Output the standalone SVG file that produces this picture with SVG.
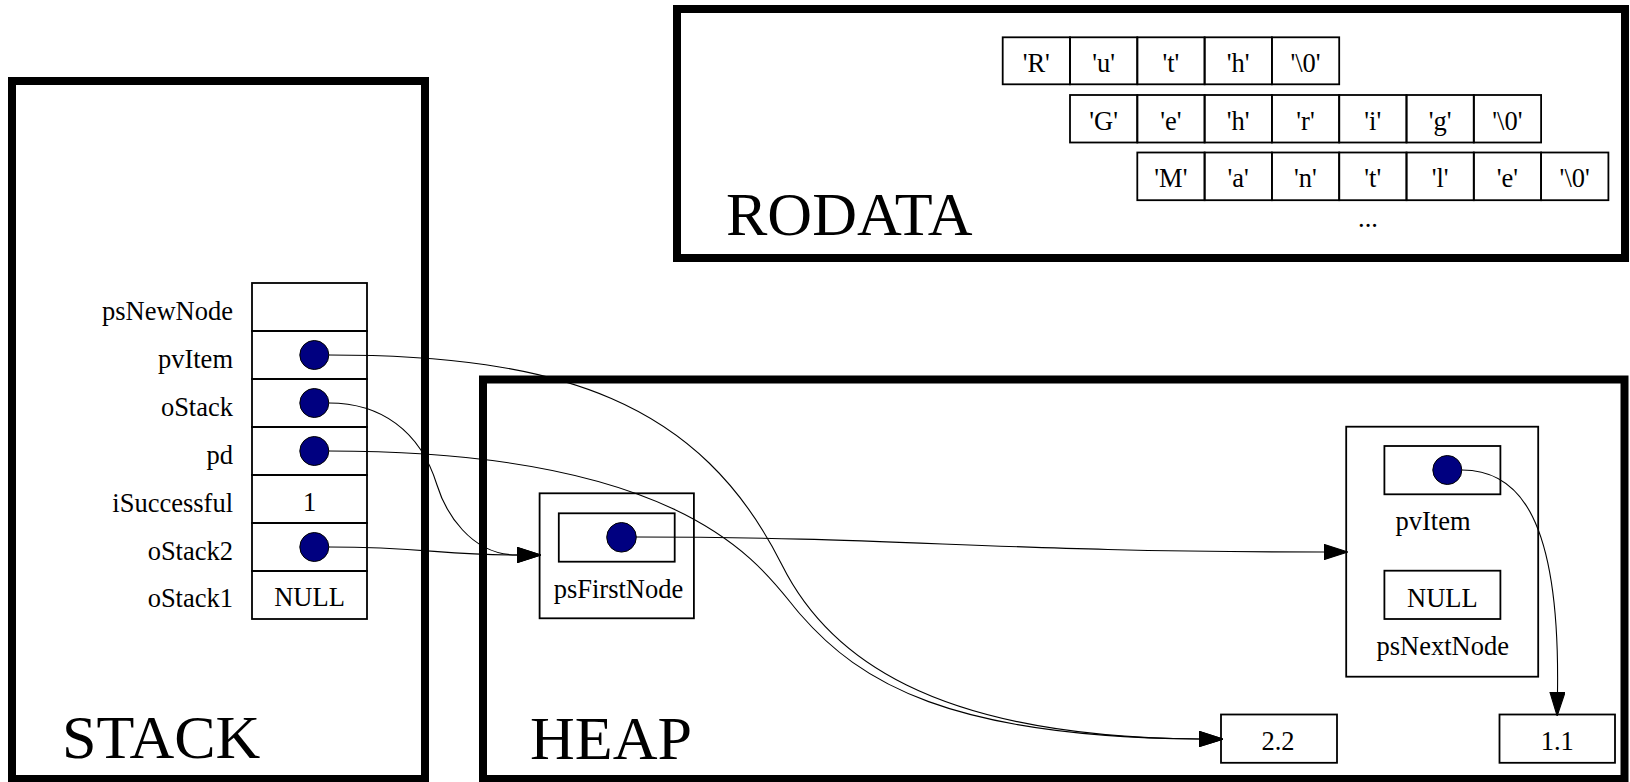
<svg xmlns="http://www.w3.org/2000/svg" width="1630" height="782" viewBox="0 0 1630 782">
<style>
.cl{fill:none;stroke:#000;stroke-width:8}
.box{fill:none;stroke:#000;stroke-width:1.8}
.t{font-family:"Liberation Serif","Times New Roman",serif;font-size:26.5px;fill:#000}
.c{text-anchor:middle}
.e{text-anchor:end}
.big{font-family:"Liberation Serif","Times New Roman",serif;font-size:62px;fill:#000}
.dot{fill:#000080;stroke:#000;stroke-width:1}
.edge{fill:none;stroke:#000;stroke-width:1.1;marker-end:url(#ah)}
</style>
<defs>
<marker id="ah" markerUnits="userSpaceOnUse" markerWidth="24" markerHeight="16" viewBox="0 0 22 14" refX="0" refY="7" orient="auto">
<path d="M0,0 L22,7 L0,14 z" fill="#000" stroke="#000" stroke-width="1"/>
</marker>
</defs>
<rect x="0" y="0" width="1630" height="782" fill="#fff"/>

<g id="cluster_stack">
<rect class="cl" x="12" y="81" width="413" height="698"/>
<text class="big" x="62" y="758">STACK</text>
</g>
<g id="cluster_heap">
<rect class="cl" x="483" y="379.5" width="1141.5" height="399.5"/>
<text class="big" x="530" y="758.5">HEAP</text>
</g>
<g id="cluster_rodata">
<rect class="cl" x="677" y="9" width="948" height="249"/>
<text class="big" x="726" y="235">RODATA</text>
</g>

<g id="stack_labels">
<text class="t e" x="233" y="320">psNewNode</text>
<text class="t e" x="233" y="368">pvItem</text>
<text class="t e" x="233" y="416">oStack</text>
<text class="t e" x="233" y="464">pd</text>
<text class="t e" x="233" y="512">iSuccessful</text>
<text class="t e" x="233" y="560">oStack2</text>
<text class="t e" x="233" y="607">oStack1</text>
</g>

<g id="stack_table">
<rect class="box" x="252" y="283" width="115" height="48"/>
<rect class="box" x="252" y="331" width="115" height="48"/>
<rect class="box" x="252" y="379" width="115" height="48"/>
<rect class="box" x="252" y="427" width="115" height="48"/>
<rect class="box" x="252" y="475" width="115" height="48"/>
<rect class="box" x="252" y="523" width="115" height="48"/>
<rect class="box" x="252" y="571" width="115" height="48"/>
<circle class="dot" cx="314.3" cy="355" r="14.5"/>
<circle class="dot" cx="314.3" cy="403" r="14.5"/>
<circle class="dot" cx="314.3" cy="451" r="14.5"/>
<text class="t c" x="309.5" y="510.5">1</text>
<circle class="dot" cx="314.3" cy="547" r="14.5"/>
<text class="t c" x="309.5" y="605.7">NULL</text>
</g>

<g id="psFirstNode">
<rect class="box" x="539.6" y="493.3" width="154.3" height="125"/>
<rect class="box" x="558.8" y="513.3" width="115.9" height="48.4"/>
<circle class="dot" cx="621.5" cy="537.3" r="14.8"/>
<text class="t c" x="618.5" y="598.3">psFirstNode</text>
</g>

<g id="listNode">
<rect class="box" x="1346.2" y="426.7" width="192" height="250"/>
<rect class="box" x="1384.4" y="446" width="116" height="48.3"/>
<circle class="dot" cx="1447.3" cy="470" r="14.5"/>
<text class="t c" x="1433" y="530">pvItem</text>
<rect class="box" x="1384.4" y="570.7" width="116" height="48.3"/>
<text class="t c" x="1442.4" y="606.7">NULL</text>
<text class="t c" x="1442.7" y="655">psNextNode</text>
</g>

<g id="val22">
<rect class="box" x="1221" y="714.5" width="116" height="48.3"/>
<text class="t c" x="1278" y="750">2.2</text>
</g>
<g id="val11">
<rect class="box" x="1499.5" y="714.5" width="115.5" height="48.3"/>
<text class="t c" x="1557.3" y="750">1.1</text>
</g>

<g id="str_ruth">
<rect class="box" x="1002.7" y="37.3" width="67.3" height="47"/>
<rect class="box" x="1070" y="37.3" width="67.3" height="47"/>
<rect class="box" x="1137.3" y="37.3" width="67.3" height="47"/>
<rect class="box" x="1204.6" y="37.3" width="67.3" height="47"/>
<rect class="box" x="1271.9" y="37.3" width="67.3" height="47"/>
<text class="t c" x="1036.3" y="72.3">'R'</text>
<text class="t c" x="1103.6" y="72.3">'u'</text>
<text class="t c" x="1170.9" y="72.3">'t'</text>
<text class="t c" x="1238.2" y="72.3">'h'</text>
<text class="t c" x="1305.5" y="72.3">'\0'</text>
</g>
<g id="str_gehrig">
<rect class="box" x="1070" y="95" width="67.3" height="47.5"/>
<rect class="box" x="1137.3" y="95" width="67.3" height="47.5"/>
<rect class="box" x="1204.6" y="95" width="67.3" height="47.5"/>
<rect class="box" x="1271.9" y="95" width="67.3" height="47.5"/>
<rect class="box" x="1339.2" y="95" width="67.3" height="47.5"/>
<rect class="box" x="1406.5" y="95" width="67.3" height="47.5"/>
<rect class="box" x="1473.8" y="95" width="67.3" height="47.5"/>
<text class="t c" x="1103.6" y="129.5">'G'</text>
<text class="t c" x="1170.9" y="129.5">'e'</text>
<text class="t c" x="1238.2" y="129.5">'h'</text>
<text class="t c" x="1305.5" y="129.5">'r'</text>
<text class="t c" x="1372.8" y="129.5">'i'</text>
<text class="t c" x="1440.1" y="129.5">'g'</text>
<text class="t c" x="1507.4" y="129.5">'\0'</text>
</g>
<g id="str_mantle">
<rect class="box" x="1137.3" y="152.5" width="67.3" height="47.7"/>
<rect class="box" x="1204.6" y="152.5" width="67.3" height="47.7"/>
<rect class="box" x="1271.9" y="152.5" width="67.3" height="47.7"/>
<rect class="box" x="1339.2" y="152.5" width="67.3" height="47.7"/>
<rect class="box" x="1406.5" y="152.5" width="67.3" height="47.7"/>
<rect class="box" x="1473.8" y="152.5" width="67.3" height="47.7"/>
<rect class="box" x="1541.1" y="152.5" width="67.3" height="47.7"/>
<text class="t c" x="1170.9" y="187">'M'</text>
<text class="t c" x="1238.2" y="187">'a'</text>
<text class="t c" x="1305.5" y="187">'n'</text>
<text class="t c" x="1372.8" y="187">'t'</text>
<text class="t c" x="1440.1" y="187">'l'</text>
<text class="t c" x="1507.4" y="187">'e'</text>
<text class="t c" x="1574.7" y="187">'\0'</text>
</g>
<g id="ellipsis">
<text class="t c" x="1368" y="226.5">...</text>
</g>

<g id="edges">
<path class="edge" d="M329,355 C560,355 700,401 782,565 C827,655 930,737 1199,739"/>
<path class="edge" d="M329,403 C380,403 420,430 437,485 C445,511 470,555 517,555"/>
<path class="edge" d="M329,451 C700,451 765,574 800,614 C860,683 950,737 1199,739"/>
<path class="edge" d="M329,547 C425,547 440,555 517,555"/>
<path class="edge" d="M636,537 C900,537 1000,552 1324,552"/>
<path class="edge" d="M1462,470 C1520,470 1560,520 1557.5,692"/>
</g>
</svg>
